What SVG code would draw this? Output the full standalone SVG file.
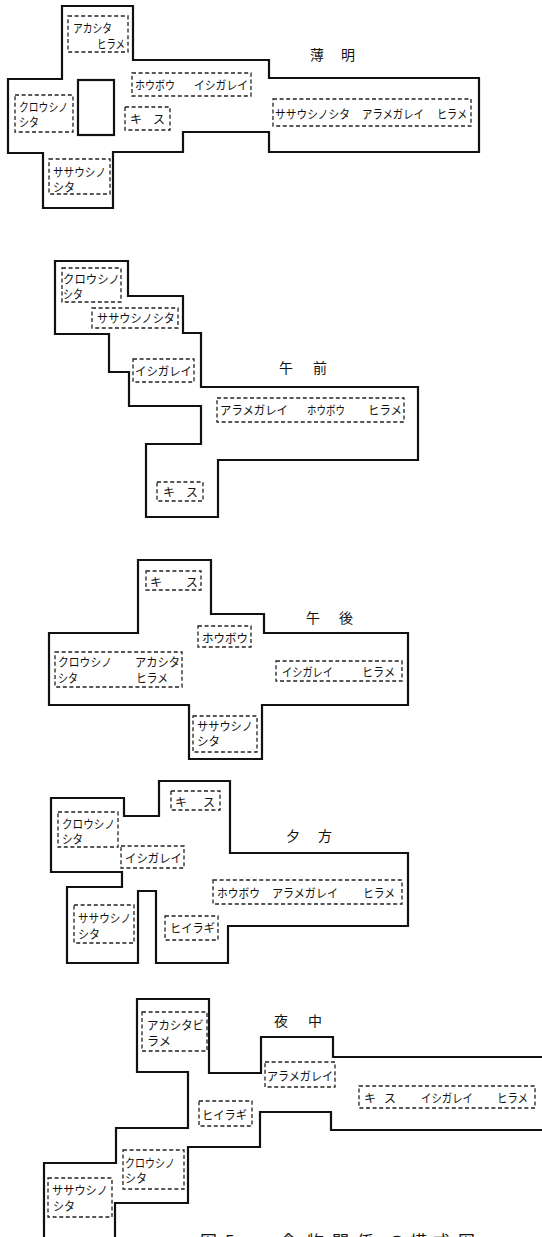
<svg xmlns="http://www.w3.org/2000/svg" width="542" height="1237" viewBox="0 0 542 1237">
<style>
.outline{fill:none;stroke:#111;stroke-width:2.2;stroke-linejoin:miter}
.box{fill:none;stroke:#222;stroke-width:1.3;stroke-dasharray:4 2.6}
.t{font-family:"Noto Sans CJK JP","Noto Sans CJK SC",sans-serif;font-size:12px;fill:#111}
.ttl{font-family:"Noto Sans CJK JP","Noto Sans CJK SC",sans-serif;font-size:14px;fill:#111}
.cap{font-family:"Noto Sans CJK JP","Noto Sans CJK SC",sans-serif;font-size:17px;fill:#111}
</style>
<rect width="542" height="1237" fill="#fff"/>

<!-- Panel 1: 薄明 -->
<g id="panel-dawn">
<path class="outline" d="M62,6 H133 V60 H269 V78 H479 V152 H269 V132 H183 V152 H113 V208 H43 V153 H8 V79 H62 Z"/>
<rect class="outline" x="78" y="80" width="36" height="55"/>
<text class="ttl" x="310" y="60">薄</text><text class="ttl" x="341" y="60">明</text>
<g id="dawn-akashita"><rect class="box" x="68" y="16" width="60" height="36"/>
<text class="t" x="73" y="33" textLength="39" lengthAdjust="spacingAndGlyphs">アカシタ</text>
<text class="t" x="97" y="49" textLength="28" lengthAdjust="spacingAndGlyphs">ヒラメ</text></g>
<g id="dawn-houbou"><rect class="box" x="132" y="73" width="119" height="23"/>
<text class="t" x="135" y="90" textLength="40" lengthAdjust="spacingAndGlyphs">ホウボウ</text>
<text class="t" x="194" y="90" textLength="54" lengthAdjust="spacingAndGlyphs">イシガレイ</text></g>
<g id="dawn-kurousi"><rect class="box" x="15" y="95" width="58" height="37"/>
<text class="t" x="19" y="112" textLength="49" lengthAdjust="spacingAndGlyphs">クロウシノ</text>
<text class="t" x="19" y="127" textLength="20" lengthAdjust="spacingAndGlyphs">シタ</text></g>
<g id="dawn-kisu"><rect class="box" x="125" y="107" width="45" height="23"/>
<text class="t" x="130" y="124">キ</text><text class="t" x="153" y="124">ス</text></g>
<g id="dawn-sasa-right"><rect class="box" x="273" y="99" width="198" height="27"/>
<text class="t" x="275" y="119" textLength="75" lengthAdjust="spacingAndGlyphs">ササウシノシタ</text>
<text class="t" x="362" y="119" textLength="62" lengthAdjust="spacingAndGlyphs">アラメガレイ</text>
<text class="t" x="437" y="119" textLength="30" lengthAdjust="spacingAndGlyphs">ヒラメ</text></g>
<g id="dawn-sasa"><rect class="box" x="49" y="159" width="61" height="35"/>
<text class="t" x="53" y="177" textLength="53" lengthAdjust="spacingAndGlyphs">ササウシノ</text>
<text class="t" x="53" y="192" textLength="22" lengthAdjust="spacingAndGlyphs">シタ</text></g>
</g>

<!-- Panel 2: 午前 -->
<g id="panel-morning">
<path class="outline" d="M55,261 H128 V296 H183 V333 H201 V387 H418 V460 H218 V517 H146 V444 H201 V406 H129 V372 H109 V334 H55 Z"/>
<text class="ttl" x="279" y="373">午</text><text class="ttl" x="313" y="373">前</text>
<g id="am-kurousi"><rect class="box" x="62" y="268" width="59" height="34"/>
<text class="t" x="63" y="284" textLength="57" lengthAdjust="spacingAndGlyphs">クロウシノ</text>
<text class="t" x="63" y="299" textLength="20" lengthAdjust="spacingAndGlyphs">シタ</text></g>
<g id="am-sasa"><rect class="box" x="92" y="308" width="86" height="20"/>
<text class="t" x="97" y="323" textLength="78" lengthAdjust="spacingAndGlyphs">ササウシノシタ</text></g>
<g id="am-ishigarei"><rect class="box" x="133" y="359" width="61" height="23"/>
<text class="t" x="135" y="376" textLength="57" lengthAdjust="spacingAndGlyphs">イシガレイ</text></g>
<g id="am-arame"><rect class="box" x="217" y="398" width="187" height="24"/>
<text class="t" x="220" y="415" textLength="68" lengthAdjust="spacingAndGlyphs">アラメガレイ</text>
<text class="t" x="307" y="415" textLength="38" lengthAdjust="spacingAndGlyphs">ホウボウ</text>
<text class="t" x="368" y="415" textLength="34" lengthAdjust="spacingAndGlyphs">ヒラメ</text></g>
<g id="am-kisu"><rect class="box" x="157" y="482" width="46" height="19"/>
<text class="t" x="163" y="497">キ</text><text class="t" x="186" y="497">ス</text></g>
</g>

<!-- Panel 3: 午後 -->
<g id="panel-afternoon">
<path class="outline" d="M138,560 H211 V614 H264 V633 H408 V705 H262 V759 H189 V705 H49 V633 H138 Z"/>
<text class="ttl" x="306" y="623">午</text><text class="ttl" x="339" y="623">後</text>
<g id="pm-kisu"><rect class="box" x="146" y="571" width="55" height="19"/>
<text class="t" x="150" y="587">キ</text><text class="t" x="186" y="587">ス</text></g>
<g id="pm-houbou"><rect class="box" x="198" y="626" width="53" height="21"/>
<text class="t" x="202" y="643" textLength="46" lengthAdjust="spacingAndGlyphs">ホウボウ</text></g>
<g id="pm-kurousi-akashita"><rect class="box" x="55" y="652" width="127" height="35"/>
<text class="t" x="58" y="667" textLength="54" lengthAdjust="spacingAndGlyphs">クロウシノ</text>
<text class="t" x="58" y="683" textLength="20" lengthAdjust="spacingAndGlyphs">シタ</text>
<text class="t" x="135" y="667" textLength="45" lengthAdjust="spacingAndGlyphs">アカシタ</text>
<text class="t" x="136" y="683" textLength="32" lengthAdjust="spacingAndGlyphs">ヒラメ</text></g>
<g id="pm-ishigarei"><rect class="box" x="276" y="661" width="126" height="20"/>
<text class="t" x="282" y="677" textLength="51" lengthAdjust="spacingAndGlyphs">イシガレイ</text>
<text class="t" x="362" y="677" textLength="33" lengthAdjust="spacingAndGlyphs">ヒラメ</text></g>
<g id="pm-sasa"><rect class="box" x="193" y="716" width="64" height="36"/>
<text class="t" x="197" y="731" textLength="56" lengthAdjust="spacingAndGlyphs">ササウシノ</text>
<text class="t" x="197" y="746" textLength="23" lengthAdjust="spacingAndGlyphs">シタ</text></g>
</g>

<!-- Panel 4: 夕方 -->
<g id="panel-evening">
<path class="outline" d="M51,798 H124 V816 H159 V781 H230 V853 H408 V926 H228 V963 H156 V891 H138 V963 H67 V887 H122 V872 H51 Z"/>
<text class="ttl" x="286" y="841">夕</text><text class="ttl" x="318" y="841">方</text>
<g id="ev-kurousi"><rect class="box" x="58" y="812" width="60" height="35"/>
<text class="t" x="62" y="829" textLength="53" lengthAdjust="spacingAndGlyphs">クロウシノ</text>
<text class="t" x="62" y="844" textLength="21" lengthAdjust="spacingAndGlyphs">シタ</text></g>
<g id="ev-kisu"><rect class="box" x="171" y="791" width="49" height="19"/>
<text class="t" x="175" y="807">キ</text><text class="t" x="203" y="807">ス</text></g>
<g id="ev-ishigarei"><rect class="box" x="121" y="846" width="63" height="22"/>
<text class="t" x="125" y="863" textLength="57" lengthAdjust="spacingAndGlyphs">イシガレイ</text></g>
<g id="ev-houbou"><rect class="box" x="213" y="880" width="189" height="24"/>
<text class="t" x="217" y="898" textLength="43" lengthAdjust="spacingAndGlyphs">ホウボウ</text>
<text class="t" x="272" y="898" textLength="66" lengthAdjust="spacingAndGlyphs">アラメガレイ</text>
<text class="t" x="363" y="898" textLength="32" lengthAdjust="spacingAndGlyphs">ヒラメ</text></g>
<g id="ev-hiiragi"><rect class="box" x="165" y="916" width="53" height="24"/>
<text class="t" x="170" y="933" textLength="45" lengthAdjust="spacingAndGlyphs">ヒイラギ</text></g>
<g id="ev-sasa"><rect class="box" x="74" y="905" width="60" height="38"/>
<text class="t" x="78" y="923" textLength="53" lengthAdjust="spacingAndGlyphs">ササウシノ</text>
<text class="t" x="78" y="939" textLength="22" lengthAdjust="spacingAndGlyphs">シタ</text></g>
</g>

<!-- Panel 5: 夜中 -->
<g id="panel-night">
<path class="outline" d="M115,1242 V1203 H188 V1147 H260 V1112 H331 V1130 H545 M545,1057 H333 V1037 H261 V1073 H209 V999 H137 V1072 H188 V1128 H116 V1163 H44 V1242"/>
<text class="ttl" x="274" y="1026">夜</text><text class="ttl" x="308" y="1026">中</text>
<g id="nt-akashita"><rect class="box" x="142" y="1012" width="65" height="39"/>
<text class="t" x="147" y="1030" textLength="57" lengthAdjust="spacingAndGlyphs">アカシタビ</text>
<text class="t" x="147" y="1046" textLength="24" lengthAdjust="spacingAndGlyphs">ラメ</text></g>
<g id="nt-arame"><rect class="box" x="265" y="1062" width="70" height="25"/>
<text class="t" x="267" y="1081" textLength="66" lengthAdjust="spacingAndGlyphs">アラメガレイ</text></g>
<g id="nt-kisu"><rect class="box" x="359" y="1086" width="176" height="22"/>
<text class="t" x="364" y="1103">キ</text><text class="t" x="384" y="1103">ス</text>
<text class="t" x="421" y="1103" textLength="52" lengthAdjust="spacingAndGlyphs">イシガレイ</text>
<text class="t" x="497" y="1103" textLength="31" lengthAdjust="spacingAndGlyphs">ヒラメ</text></g>
<g id="nt-hiiragi"><rect class="box" x="199" y="1101" width="53" height="25"/>
<text class="t" x="202" y="1120" textLength="45" lengthAdjust="spacingAndGlyphs">ヒイラギ</text></g>
<g id="nt-kurousi"><rect class="box" x="123" y="1150" width="61" height="39"/>
<text class="t" x="125" y="1168" textLength="50" lengthAdjust="spacingAndGlyphs">クロウシノ</text>
<text class="t" x="125" y="1183" textLength="22" lengthAdjust="spacingAndGlyphs">シタ</text></g>
<g id="nt-sasa"><rect class="box" x="48" y="1178" width="64" height="39"/>
<text class="t" x="52" y="1195" textLength="56" lengthAdjust="spacingAndGlyphs">ササウシノ</text>
<text class="t" x="53" y="1211" textLength="22" lengthAdjust="spacingAndGlyphs">シタ</text></g>
</g>

<g id="caption">
<text class="cap" x="200 225 280 307 332 357 388 410 433 458" y="1248">図5食物関係の模式図</text>
</g>
</svg>
